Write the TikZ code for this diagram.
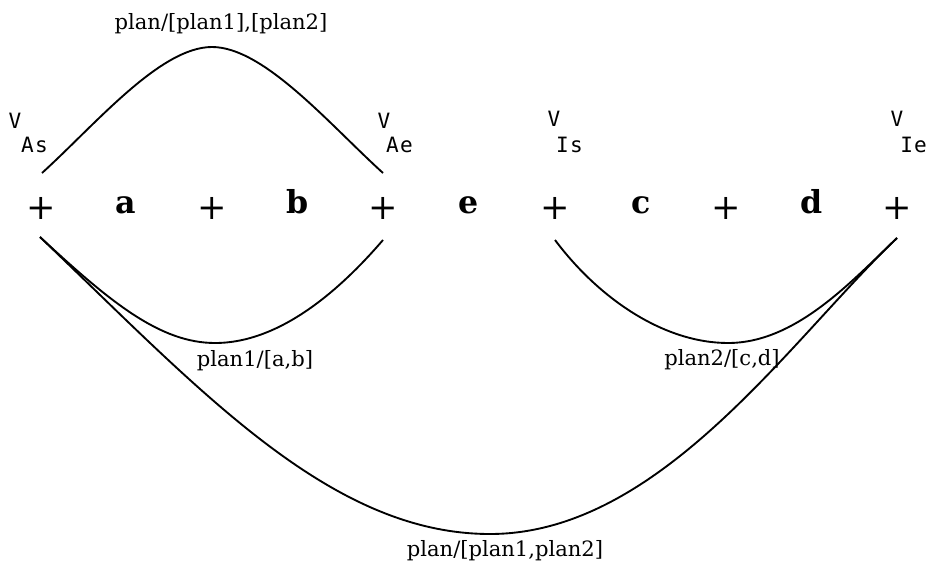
\documentclass[tikz,border=0pt]{standalone}
\usepackage{fontspec}
\setmainfont{DejaVu Serif}
\newfontfamily\vfont{DejaVu Sans Mono}
\begin{document}
\begin{tikzpicture}[x=0.03cm,y=-0.03cm,
  plusmark/.style={inner sep=0pt,font=\fontsize{30}{32}\selectfont},
  seglabel/.style={inner sep=0pt,font=\fontsize{27}{29}\selectfont\bfseries},
  vlabel/.style={inner sep=0pt,font=\vfont\fontsize{18}{20}\selectfont},
  planlabel/.style={inner sep=0pt,font=\fontsize{18}{20}\selectfont},
  arc/.style={line width=1.6pt}]
\useasboundingbox (0,0) rectangle (936,566);
% plus marks
\node[plusmark] (p1) at (41,208) {+};
\node[plusmark] (p2) at (212,208) {+};
\node[plusmark] (p3) at (383,208) {+};
\node[plusmark] (p4) at (555,208) {+};
\node[plusmark] (p5) at (726,208) {+};
\node[plusmark] (p6) at (897,208) {+};
% segment letters
\node[seglabel,anchor=base] (la) at (126,213) {a};
\node[seglabel,anchor=base] (lb) at (298,213) {b};
\node[seglabel,anchor=base] (le) at (469,213) {e};
\node[seglabel,anchor=base] (lc) at (641,213) {c};
\node[seglabel,anchor=base] (ld) at (812,213) {d};
% V labels
\node[vlabel] (v1) at (15,121) {V};
\node[vlabel,anchor=west] (s1) at (21,145) {A\hspace{1pt}s};
\node[vlabel] (v2) at (384,121) {V};
\node[vlabel,anchor=west] (s2) at (386,145) {A\hspace{1pt}e};
\node[vlabel] (v3) at (554,119) {V};
\node[vlabel,anchor=west] (s3) at (556,145) {I\hspace{1pt}s};
\node[vlabel] (v4) at (897,119) {V};
\node[vlabel,anchor=west] (s4) at (900,145) {I\hspace{1pt}e};
% arc end points
\coordinate (tA) at (42,173);
\coordinate (tB) at (383,173);
\coordinate (bA) at (40,237);
\coordinate (bB) at (383,240);
\coordinate (bC) at (555,240);
\coordinate (bD) at (897,238);
% arcs
\draw[arc] (tA) .. controls (95,125) and (160,47) .. (212,47)
  .. controls (264,47) and (330,125) .. (tB);
\draw[arc] (bA) .. controls (110,302) and (160,343) .. (215,343)
  .. controls (280,343) and (340,290) .. (bB);
\draw[arc] (bC) .. controls (600,300) and (665,343) .. (728,343)
  .. controls (795,343) and (850,283) .. (bD);
\draw[arc] (bA) .. controls (200,390) and (330,534) .. (490,534)
  .. controls (660,534) and (790,340) .. (bD);
% plan labels
\node[planlabel] (t1) at (221,24) {plan/[plan1],[plan2]};
\node[planlabel] (t2) at (255,361) {plan1/[a,b]};
\node[planlabel] (t3) at (722,360) {plan2/[c,d]};
\node[planlabel] (t4) at (505,551) {plan/[plan1,plan2]};
\end{tikzpicture}
\end{document}
